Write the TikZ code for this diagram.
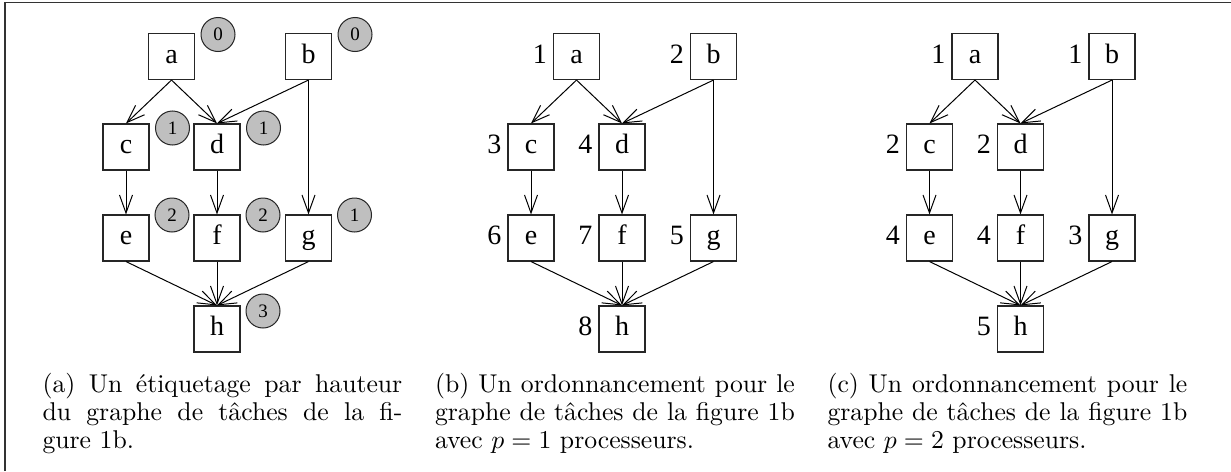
\documentclass[tikz,border=0pt]{standalone}
\usepackage{fontspec}
\newfontfamily\timesf{Liberation Serif}
\usetikzlibrary{arrows.meta}
\tikzset{
  task/.style={draw=black!85, line width=1.1pt, minimum size=46pt, inner sep=0pt,
    font=\timesf\fontsize{28}{28}\selectfont, text height=19pt, text depth=6pt},
  hcirc/.style={circle, draw=black!85, line width=1pt, fill=black!25, minimum size=34pt,
    inner sep=0pt, font=\timesf\fontsize{19}{19}\selectfont},
  edge/.style={line width=1pt, -{Straight Barb[length=18pt,width=13pt]}},
  ord/.style={font=\timesf\fontsize{28}{28}\selectfont, inner sep=0pt, anchor=base east},
  capt/.style={anchor=north west, inner sep=0pt, text width=140pt, align=justify,
    font=\fontsize{10}{10.9}\selectfont},
}
\newcommand\tgraph{%
  \node[task] (a) at (171.5,56.5) {a};
  \node[task] (b) at (308.5,56.5) {b};
  \node[task] (c) at (126,147) {c};
  \node[task] (d) at (217,147) {d};
  \node[task] (e) at (126,238) {e};
  \node[task] (f) at (217,238) {f};
  \node[task] (g) at (308.5,238) {g};
  \node[task] (h) at (217,329) {h};
  \draw[edge] (a.south) -- (c.north);
  \draw[edge] (a.south) -- (d.north);
  \draw[edge] (b.south) -- (d.north);
  \draw[edge] (b.south) -- (g.north);
  \draw[edge] (c.south) -- (e.north);
  \draw[edge] (d.south) -- (f.north);
  \draw[edge] (e.south) -- (h.north);
  \draw[edge] (f.south) -- (h.north);
  \draw[edge] (g.south) -- (h.north);
}
\newcommand\tlabels[8]{%
  \node[ord] (la) at ([xshift=-6pt]a.base west) {#1};
  \node[ord] (lb) at ([xshift=-6pt]b.base west) {#2};
  \node[ord] (lc) at ([xshift=-6pt]c.base west) {#3};
  \node[ord] (ld) at ([xshift=-6pt]d.base west) {#4};
  \node[ord] (le) at ([xshift=-6pt]e.base west) {#5};
  \node[ord] (lf) at ([xshift=-6pt]f.base west) {#6};
  \node[ord] (lg) at ([xshift=-6pt]g.base west) {#7};
  \node[ord] (lh) at ([xshift=-6pt]h.base west) {#8};
}
\begin{document}
\begin{tikzpicture}[x=1pt, y=-1pt]
  \useasboundingbox (0,0) rectangle (1231,471);
  \fill[white] (0,0) rectangle (1231,471);
  % frame
  \draw[line width=1.3pt, black!80] (5,471) -- (5,2.5) -- (1231,2.5);

  % panel (a)
  \begin{scope}[name prefix=A-]
    \tgraph
    \node[hcirc] (ca) at ([shift={(46.5,-22)}]a.center) {0};
    \node[hcirc] (cb) at ([shift={(46.5,-22)}]b.center) {0};
    \node[hcirc] (cc) at ([shift={(46.5,-19)}]c.center) {1};
    \node[hcirc] (cd) at ([shift={(46.5,-19)}]d.center) {1};
    \node[hcirc] (ce) at ([shift={(46,-23)}]e.center) {2};
    \node[hcirc] (cf) at ([shift={(46,-23)}]f.center) {2};
    \node[hcirc] (cg) at ([shift={(46,-23)}]g.center) {1};
    \node[hcirc] (ch) at ([shift={(46,-18)}]h.center) {3};
  \end{scope}

  % panel (b)
  \begin{scope}[shift={(405,0)}, name prefix=B-]
    \tgraph
    \tlabels{1}{2}{3}{4}{6}{7}{5}{8}
  \end{scope}

  % panel (c)
  \begin{scope}[shift={(803.5,0)}, name prefix=C-]
    \tgraph
    \tlabels{1}{1}{2}{2}{4}{4}{3}{5}
  \end{scope}

  % captions
  \begin{scope}[shift={(42,372.7)}, scale=2.57, transform shape]
    \node[capt] (capa) at (0,0) {\noindent(a) Un étiquetage par hauteur\linebreak du graphe de tâches de la fi-\linebreak gure 1b.};
  \end{scope}
  \begin{scope}[shift={(434.5,372.7)}, scale=2.57, transform shape]
    \node[capt] (capb) at (0,0) {\noindent(b) Un ordonnancement pour le\linebreak graphe de tâches de la figure 1b\linebreak avec $p=1$ processeurs.};
  \end{scope}
  \begin{scope}[shift={(827,372.7)}, scale=2.57, transform shape]
    \node[capt] (capc) at (0,0) {\noindent(c) Un ordonnancement pour le\linebreak graphe de tâches de la figure 1b\linebreak avec $p=2$ processeurs.};
  \end{scope}
\end{tikzpicture}
\end{document}
